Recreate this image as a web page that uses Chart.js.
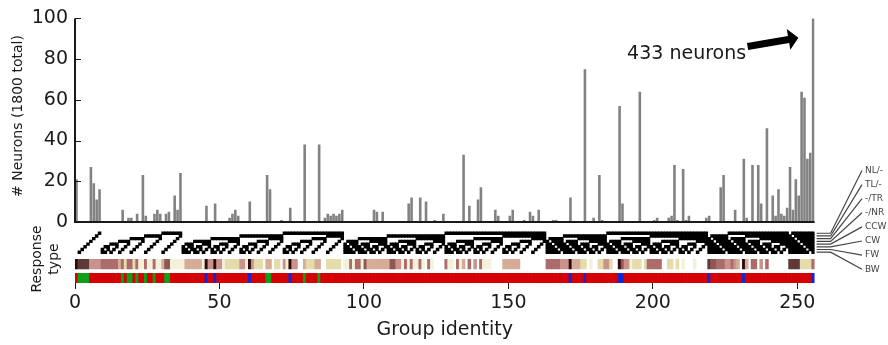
<!DOCTYPE html>
<html lang="en">
<head>
<meta charset="UTF-8">
<title>Neurons per group identity</title>
<script src="https://cdn.jsdelivr.net/npm/chart.js"></script>
<style>
  html, body { margin: 0; padding: 0; background: #fff; }
</style>
</head>
<body>
<canvas id="groups" width="888" height="345"></canvas>
<script>
// neurons in each of the 256 groups (bar 255 is clipped, see annotation)
const neuronCounts = [
  21,0,0,0,0,27,19,11,16,0,0,0,0,0,0,0,
  6,0,2,2,0,4,0,23,3,0,0,4,6,4,0,4,
  5,0,13,6,24,0,0,0,0,0,0,0,0,8,0,0,
  9,0,0,0,0,2,4,6,3,0,0,0,10,0,0,0,
  0,0,23,16,0,0,0,1,0,0,7,0,0,0,0,38,
  0,0,0,0,38,0,2,4,3,4,3,4,6,0,0,0,
  0,0,0,0,0,0,0,6,5,0,5,0,0,0,0,0,
  0,0,0,9,12,0,0,12,0,10,0,0,1,0,0,4,
  0,0,0,0,0,0,33,0,8,0,0,11,17,0,0,0,
  0,6,3,0,0,0,3,6,0,0,0,1,0,5,3,0,
  6,0,0,0,0,1,1,0,0,0,0,12,0,0,0,0,
  75,0,0,2,0,23,1,0,0,0,0,0,57,9,0,0,
  0,0,0,64,0,0,0,0,1,2,0,0,0,2,3,28,
  1,0,26,1,3,0,0,0,0,0,2,3,0,0,0,17,
  23,0,0,0,6,0,0,31,2,0,28,0,28,9,0,46,
  0,13,3,16,4,3,7,27,6,21,13,64,61,31,34,433
];

// response code of each group (bit 7 = NL/- ... bit 0 = BW)
const groupCodes = [
  0,
  1,2,4,8,16,32,64,128,
  3,5,6,9,10,12,17,18,20,24,33,34,36,40,48,65,66,68,72,80,96,129,130,132,136,144,160,192,
  7,11,13,14,19,21,22,25,26,28,35,37,38,41,42,44,49,50,52,56,67,69,70,73,74,76,81,82,84,88,
  97,98,100,104,112,131,133,134,137,138,140,145,146,148,152,161,162,164,168,176,193,194,196,200,208,224,
  15,23,27,29,30,39,43,45,46,51,53,54,57,58,60,71,75,77,78,83,85,86,89,90,92,99,101,102,105,106,108,
  113,114,116,120,135,139,141,142,147,149,150,153,154,156,163,165,166,169,170,172,177,178,180,184,
  195,197,198,201,202,204,209,210,212,216,225,226,228,232,240,
  31,47,55,59,61,62,79,87,91,93,94,103,107,109,110,115,117,118,121,122,124,143,151,155,157,158,
  167,171,173,174,179,181,182,185,186,188,199,203,205,206,211,213,214,217,218,220,227,229,230,
  233,234,236,241,242,244,248,
  63,95,111,119,123,125,126,159,175,183,187,189,190,207,215,219,221,222,231,235,237,238,243,245,246,249,250,252,
  127,191,223,239,247,251,253,254,
  255
];

const responseRows = ['NL/-', 'TL/-', '-/TR', '-/NR', 'CCW', 'CW', 'FW', 'BW'];

// response type of each group ('.' = none)
const responseType = [
  'DKKKKPPPPMMMMMMT', 'MYMMYMWWMWWMWWTR', 'RWWWWWTTTTTTWDPP', 'DPPWYYYYYPPWDPYY',
  'Y.TT.YY.PWDPP..T', 'YYYTT..YYYYY.WWM', 'WMMWRTTTTTTTTRRP', 'PWMWMWWMW.MW....',
  'MWW.MWT.M.P.MWWW', '....TTTTTT......', '...MMMMMPPPDTTTY', 'Y.W..YYPPY..DRPP',
  'WYYY.YMMMMM..YY.', 'Y.W...W....KRRMM', 'MPPMPT.DT.MM.P.M', '.......KKKKYYYYM'
].join('');

// class strip under the response types
const groupClass = [
  'rggggrrrrrrrrrrr', 'grggrgrrgrrgrrrg', 'grrrrrrrrrrrrbrr', 'brrrrrrrrrrrbrrr',
  'rrggrrrrrrbrrrrg', 'rrrrgrrrrrrrrrrr', 'rrrrrrrrrrrrrrrr', 'rrrrrrrrrrrrrrrr',
  'rrrrrrrrrrrrrrrr', 'rrrrrrrrrrrrrrrr', 'rrrrrrrrrrrbrrrr', 'brrrrrrrrrrrbbrr',
  'rrrrrrrrrrrrrrrr', 'rrrrrrrrrrrbrrrr', 'rrrrrrrbrrrrrrrr', 'rrrrrrrrrrrrrrrb'
].join('');

const xTicks = [0, 50, 100, 150, 200, 250];
const yTicks = [0, 20, 40, 60, 80, 100];

const responseColors = {
  D: '#2e0b0b', K: '#5f3838', R: '#8f5656', M: '#ad6c6c',
  P: '#c9928b', T: '#d5ad97', Y: '#e5dbab', W: '#f4f1da'
};
const classColors = { r: '#d50000', g: '#109e18', b: '#1424dc' };

// bands below the bars, in y-axis units
const matrixTop = -4.9, rowH = 1.33;
const responseBand = [-23.05, -18.35];
const classBand = [-30, -25.2];

const FONT = "'DejaVu Sans', sans-serif";
const INK = '#1a1a1a';

const barData = neuronCounts.map((v, i) => ({ x: i + 0.5, y: v }));

const matrixSets = responseRows.map((name, r) => {
  const bit = 7 - r;
  const band = [matrixTop - (r + 1) * rowH, matrixTop - r * rowH];
  return {
    label: name,
    data: groupCodes.map((c, i) => ((c >> bit) & 1) ? { x: i + 0.5, y: band } : null).filter(Boolean),
    backgroundColor: '#000'
  };
});

const respData = [], respCols = [];
[...responseType].forEach((c, i) => {
  if (c === '.') return;
  respData.push({ x: i + 0.5, y: responseBand });
  respCols.push(responseColors[c]);
});

const classData = [...groupClass].map((c, i) => ({ x: i + 0.5, y: classBand }));
const classCols = [...groupClass].map(c => classColors[c]);

const decor = {
  id: 'decor',
  afterDraw(chart) {
    const { ctx, chartArea: a, scales: { x, y } } = chart;
    const y0 = y.getPixelForValue(0), y100 = y.getPixelForValue(100);
    const xEnd = x.getPixelForValue(256);
    ctx.save();

    // spines of the count axes
    ctx.strokeStyle = INK;
    ctx.lineWidth = 2;
    ctx.beginPath();
    ctx.moveTo(a.left, y100);
    ctx.lineTo(a.left, y0);
    ctx.lineTo(xEnd, y0);
    ctx.stroke();

    // inward tick marks
    ctx.lineWidth = 1;
    ctx.beginPath();
    yTicks.forEach(v => {
      const py = Math.round(y.getPixelForValue(v)) + 0.5;
      ctx.moveTo(a.left, py);
      ctx.lineTo(a.left + 6, py);
    });
    ctx.stroke();

    // row labels fanned out on the right
    ctx.strokeStyle = '#444';
    ctx.lineWidth = 1.2;
    ctx.fillStyle = '#444';
    ctx.font = '9px ' + FONT;
    ctx.textAlign = 'left';
    ctx.textBaseline = 'middle';
    responseRows.forEach((name, r) => {
      const ry = y.getPixelForValue(matrixTop - (r + 0.5) * rowH);
      const ly = 170.5 + r * 14.1;
      ctx.beginPath();
      ctx.moveTo(xEnd + 2, ry);
      ctx.lineTo(xEnd + 16, ry);
      ctx.lineTo(862, ly);
      ctx.stroke();
      ctx.fillText(name, 865, ly);
    });

    // axis titles on the left
    ctx.fillStyle = INK;
    ctx.textAlign = 'center';
    ctx.font = '14px ' + FONT;
    ctx.save();
    ctx.translate(18, 116);
    ctx.rotate(-Math.PI / 2);
    ctx.fillText('# Neurons (1800 total)', 0, 0);
    ctx.restore();
    ctx.save();
    ctx.translate(37, 259);
    ctx.rotate(-Math.PI / 2);
    ctx.fillText('Response', 0, 0);
    ctx.fillText('type', 0, 17);
    ctx.restore();

    // annotation for the clipped bar
    ctx.font = '19px ' + FONT;
    ctx.textAlign = 'right';
    ctx.textBaseline = 'alphabetic';
    ctx.fillText('433 neurons', x.getPixelForValue(232.3), y.getPixelForValue(80));
    const fx = x.getPixelForValue(232.8), fy = y.getPixelForValue(86.2);
    const tx = x.getPixelForValue(250.4), ty = y.getPixelForValue(90.5);
    const L = Math.hypot(tx - fx, ty - fy);
    const ux = (tx - fx) / L, uy = (ty - fy) / L, nx = -uy, ny = ux;
    const hw = 3.6, hh = 10.5, hl = 10;
    const bx = tx - ux * hl, by = ty - uy * hl;
    ctx.fillStyle = '#000';
    ctx.beginPath();
    ctx.moveTo(fx + nx * hw, fy + ny * hw);
    ctx.lineTo(bx + nx * hw, by + ny * hw);
    ctx.lineTo(bx + nx * hh, by + ny * hh);
    ctx.lineTo(tx, ty);
    ctx.lineTo(bx - nx * hh, by - ny * hh);
    ctx.lineTo(bx - nx * hw, by - ny * hw);
    ctx.lineTo(fx - nx * hw, fy - ny * hw);
    ctx.closePath();
    ctx.fill();

    ctx.restore();
  }
};

new Chart(document.getElementById('groups'), {
  type: 'bar',
  data: {
    datasets: [
      { label: 'Neurons', data: barData, backgroundColor: '#828282', barPercentage: 0.9 },
      ...matrixSets,
      { label: 'Response type', data: respData, backgroundColor: respCols },
      { label: 'Class', data: classData, backgroundColor: classCols }
    ]
  },
  options: {
    responsive: false,
    animation: false,
    events: [],
    layout: { padding: { top: 18, right: 73.4, left: 0, bottom: 0 } },
    datasets: { bar: { grouped: false, categoryPercentage: 1, barPercentage: 1 } },
    plugins: { legend: { display: false }, tooltip: { enabled: false } },
    scales: {
      x: {
        type: 'linear', min: 0, max: 256, offset: false,
        afterBuildTicks: s => { s.ticks = xTicks.map(v => ({ value: v })); },
        afterFit: s => { s.height = 62; },
        border: { display: false },
        grid: { display: true, drawOnChartArea: false, drawTicks: true, tickLength: 6, color: INK, offset: false },
        ticks: { font: { family: FONT, size: 19 }, color: INK, padding: 3, maxRotation: 0, autoSkip: false },
        title: { display: true, text: 'Group identity', font: { family: FONT, size: 19 }, color: INK, padding: { top: 0, bottom: 4 } }
      },
      y: {
        type: 'linear', min: -30, max: 100,
        afterBuildTicks: s => { s.ticks = yTicks.map(v => ({ value: v })); },
        afterFit: s => { s.width = 75; },
        border: { display: false },
        grid: { display: false, drawTicks: false },
        ticks: { font: { family: FONT, size: 19 }, color: INK, padding: 7 }
      }
    }
  },
  plugins: [decor]
});
</script>
</body>
</html>
